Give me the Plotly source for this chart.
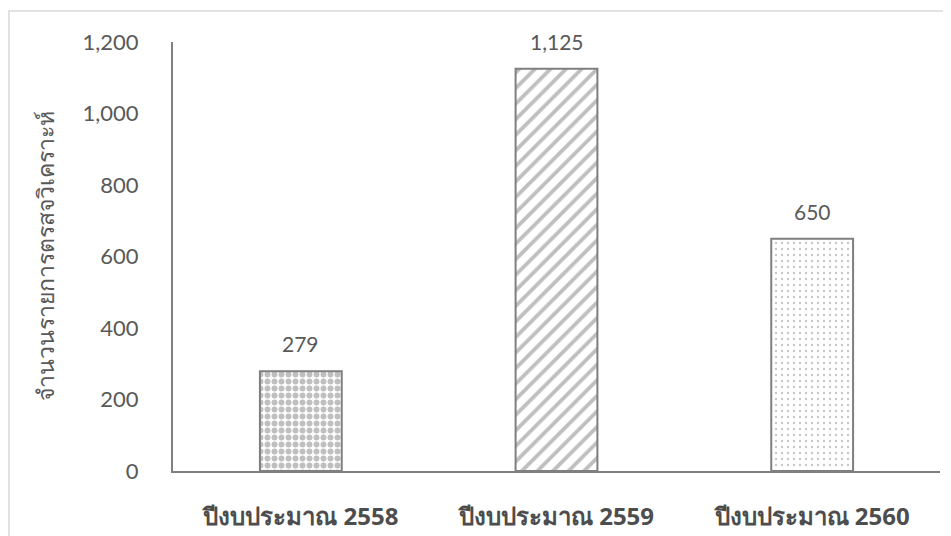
import plotly.graph_objects as go

categories = ["ปีงบประมาณ 2558", "ปีงบประมาณ 2559", "ปีงบประมาณ 2560"]
values = [279, 1125, 650]
value_labels = ["279", "1,125", "650"]
y_ticks = [0, 200, 400, 600, 800, 1000, 1200]
y_tick_labels = ["0", "200", "400", "600", "800", "1,000", "1,200"]
y_title = "จำนวนรายการตรสจวิเคราะห์"

patterns = [
    dict(shape=".", size=7, solidity=0.55, fgcolor="#7f7f7f", bgcolor="white"),
    dict(shape="/", size=11, solidity=0.35, fgcolor="#7f7f7f", bgcolor="white"),
    dict(shape=".", size=6, solidity=0.12, fgcolor="#8c8c8c", bgcolor="white"),
]

fig = go.Figure()
for c, v, p in zip(categories, values, patterns):
    fig.add_trace(go.Bar(
        x=[c], y=[v],
        marker=dict(color="white", pattern=p,
                    line=dict(color="#7f7f7f", width=2)),
        width=0.32, showlegend=False, hoverinfo="skip",
    ))

for c, v, t in zip(categories, values, value_labels):
    fig.add_annotation(x=c, y=v, text=t, showarrow=False, yanchor="bottom",
                       yshift=13, font=dict(size=21, color="#595959",
                                            family="Lato, Open Sans, sans-serif"))

# page body has an 8px default margin; compensate
OFF = 8
L, R, T, B = 173 - OFF, 11, 42 - OFF, 65
W, H = 951 - OFF, 536 - OFF
pw, ph = W - L - R, H - T - B

fig.update_layout(
    width=W, height=H,
    margin=dict(l=L, r=R, t=T, b=B),
    plot_bgcolor="white", paper_bgcolor="white",
    barmode="overlay",
    font=dict(family="Lato, Open Sans, sans-serif", color="#595959"),
    xaxis=dict(
        showline=True, linecolor="#808080", linewidth=2,
        ticks="", showgrid=False, automargin=False,
        ticklabelstandoff=23,
        tickfont=dict(size=24, color="#4d4d4d",
                      family="Tahoma, Noto Sans, sans-serif", weight="bold"),
        range=[-0.5, 2.5],
    ),
    yaxis=dict(
        range=[0, 1200], tickvals=y_ticks, ticktext=y_tick_labels,
        showline=True, linecolor="#808080", linewidth=2,
        showgrid=False, zeroline=False, ticks="", automargin=False,
        ticklabelstandoff=28,
        tickfont=dict(size=22, color="#595959",
                      family="Lato, Open Sans, sans-serif"),
        title=dict(text=y_title, standoff=22,
                   font=dict(size=23, color="#595959",
                             family="Tahoma, Noto Sans, sans-serif")),
    ),
    shapes=[dict(type="rect", xref="paper", yref="paper",
                 x0=(9 - OFF - L) / pw, x1=(W + 5 - L) / pw,
                 y0=(T + ph - (H + 5)) / ph, y1=(T + ph - (11 - OFF)) / ph,
                 line=dict(color="#d9d9d9", width=1.5), layer="below")],
)

fig.write_html("out.html")
